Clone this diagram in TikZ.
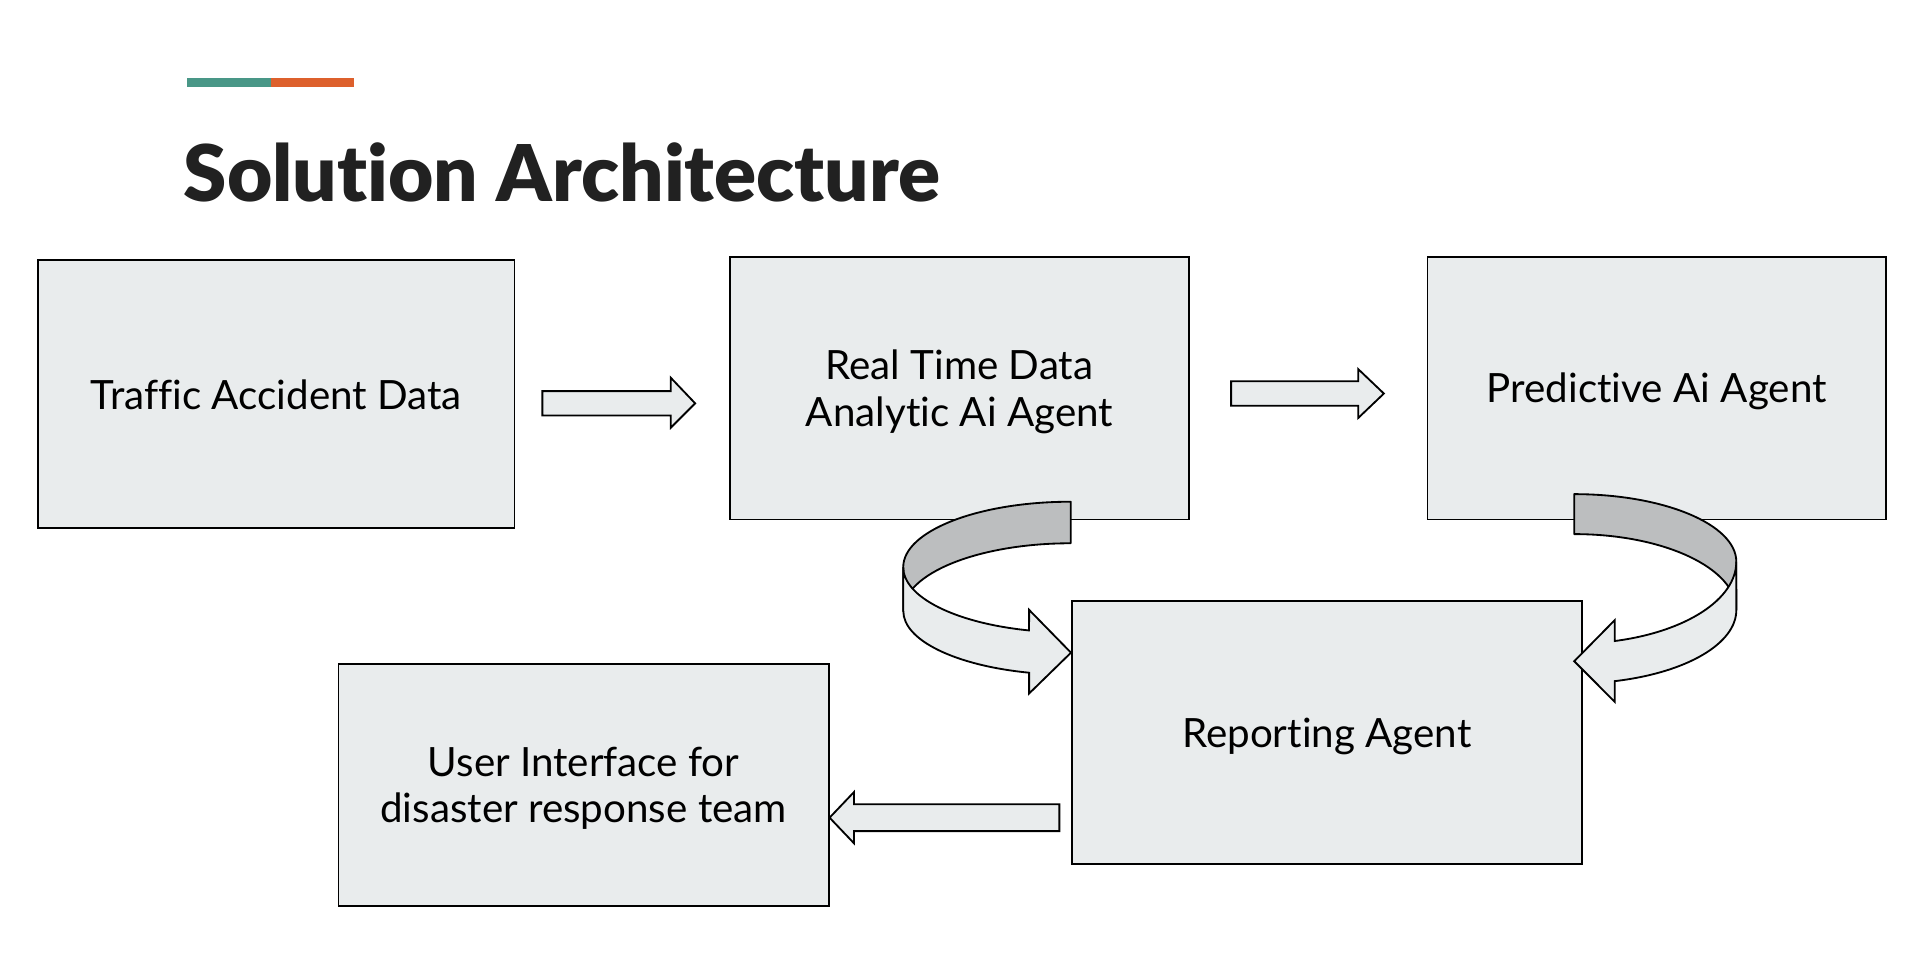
\documentclass[tikz,border=0pt]{standalone}
\usepackage{fontspec}
\setmainfont{Lato}[Ligatures=NoCommon]
\newfontfamily\titlefont{Lato Black}[Ligatures=NoCommon]
\usetikzlibrary{calc}

\definecolor{boxgrey}{RGB}{233,236,237}
\definecolor{bandgrey}{RGB}{188,190,191}
\definecolor{barteal}{RGB}{73,151,135}
\definecolor{barorange}{RGB}{221,96,44}
\definecolor{titleblack}{RGB}{33,33,33}

\begin{document}
\begin{tikzpicture}[x=0.5pt, y=0.5pt, yscale=-1,
    box/.style={draw=black, line width=0.75pt, fill=boxgrey, align=center,
      inner sep=0pt, text depth=0pt, font=\fontsize{16.5}{19}\selectfont},
    flat/.style={draw=black, line width=0.75pt, fill=boxgrey, line join=miter},
    band/.style={draw=black, line width=0.75pt, fill=bandgrey, line join=round},
    title/.style={anchor=base west, inner sep=0pt, text=titleblack,
      font=\fontsize{32}{39}\selectfont\titlefont}]

  \useasboundingbox[fill=white] (0,0) rectangle (1566,790.4);

  % accent bar
  \fill[barteal] (153,64) rectangle (222,71);
  \fill[barorange] (222,64) rectangle (290,71);

  \node[title] (title) at (150,165) {Solution Architecture};

  \node[box, minimum width=195pt, minimum height=109.5pt] (traffic) at (226,322.5) {Traffic Accident Data};
  \node[box, minimum width=188pt, minimum height=107.5pt] (realtime) at (785,317.5) {Real Time Data\\Analytic Ai Agent};
  \node[box, minimum width=187.5pt, minimum height=107.5pt] (predictive) at (1355.5,317.5) {Predictive Ai Agent};
  \node[box, minimum width=208.5pt, minimum height=107.5pt] (reporting) at (1085.5,599.5) {Reporting Agent};
  \node[box, minimum width=200.5pt, minimum height=99pt] (userui) at (477.5,642) {User Interface for\\disaster response team};

  % straight arrows
  \draw[flat] ($(traffic.east)+(22,-2.5)$) -- ++(105,0) -- ++(0,-11) -- ++(20,21)
    -- ++(-20,20) -- ++(0,-10) -- ++(-105,0) -- cycle;
  \draw[flat] ($(realtime.east)+(33.5,-5.5)$) -- ++(104,0) -- ++(0,-10) -- ++(21,20)
    -- ++(-21,20) -- ++(0,-10) -- ++(-104,0) -- cycle;
  \draw[flat] ($(userui.east)+(0,27)$) -- ++(20,-21) -- ++(0,10) -- ++(168,0)
    -- ++(0,22) -- ++(-168,0) -- ++(0,10) -- cycle;

  % curved arrow realtime -> reporting
  \coordinate (rtfold) at (876,410.5);
  \coordinate (rttip) at ($(reporting.west |- 0,534)$);
  \draw[band] (rtfold) arc[start angle=-90, end angle=-180, x radius=137, y radius=53.5]
    -- (739,500) arc[start angle=180, end angle=270, x radius=137, y radius=55.5] -- cycle;
  \draw[flat] (739,464) arc[start angle=180, end angle=104.4, x radius=137, y radius=53.5]
    -- (842,499) -- (rttip) -- (842,567.4) -- (842,550.4)
    arc[start angle=104.4, end angle=180, x radius=137, y radius=52] -- cycle;

  % curved arrow predictive -> reporting
  \coordinate (prfold) at (1288,404.3);
  \coordinate (prtip) at (1288,541);
  \draw[band] (prfold) arc[start angle=-90, end angle=0, x radius=132.6, y radius=55.3]
    -- (1420.6,499.2) arc[start angle=0, end angle=-90, x radius=132.6, y radius=62.2] -- cycle;
  \draw[flat] (1420.6,459.6) arc[start angle=0, end angle=75.55, x radius=132.6, y radius=67]
    -- (1321.1,507.4) -- (prtip) -- (1321.1,574.2) -- (1321.1,557.3)
    arc[start angle=75.55, end angle=0, x radius=132.6, y radius=60] -- cycle;

\end{tikzpicture}
\end{document}
